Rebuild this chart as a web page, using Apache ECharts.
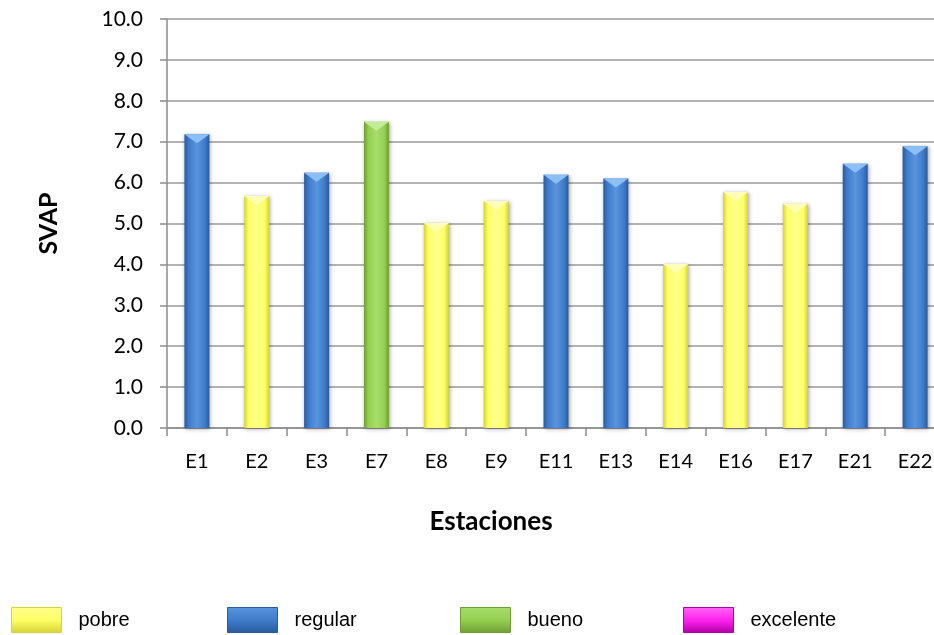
<!DOCTYPE html>
<html>
<head>
<meta charset="utf-8">
<script src="https://cdn.jsdelivr.net/npm/echarts@6/dist/echarts.min.js"></script>
<style>
  html, body { margin: 0; padding: 0; background: #fff; }
  #chart { width: 934px; height: 635px; }
</style>
</head>
<body>
<div id="chart"></div>
<script>
// Stations, SVAP index per station and its quality class
const categories = ['E1', 'E2', 'E3', 'E7', 'E8', 'E9', 'E11', 'E13', 'E14', 'E16', 'E17', 'E21', 'E22'];
const svapValues = [7.18, 5.67, 6.24, 7.49, 5.01, 5.55, 6.19, 6.10, 4.01, 5.77, 5.48, 6.46, 6.89];
const classes = ['regular', 'pobre', 'regular', 'bueno', 'pobre', 'pobre', 'regular', 'regular', 'pobre', 'pobre', 'pobre', 'regular', 'regular'];
const classNames = ['pobre', 'regular', 'bueno', 'excelente'];
const yTicks = { min: 0, max: 10, interval: 1 };

// Bar fill per class: light centre, darker edges for a rounded look
const palette = {
  pobre:     { edge: '#d4d436', mid: '#ffff66', light: '#ffff8c', cap: '#ffffb8' },
  regular:   { edge: '#2a5a9c', mid: '#3e7ccc', light: '#5a94dc', cap: '#8cc0f4' },
  bueno:     { edge: '#6f9e34', mid: '#94d050', light: '#a8dc6c', cap: '#c4ec96' },
  excelente: { edge: '#b000a8', mid: '#ff22ee', light: '#ff66f4', cap: '#ff9cf8' }
};
function barFill(name) {
  const p = palette[name];
  return new echarts.graphic.LinearGradient(0, 0, 1, 0, [
    { offset: 0, color: p.edge },
    { offset: 0.18, color: p.mid },
    { offset: 0.5, color: p.light },
    { offset: 0.82, color: p.mid },
    { offset: 1, color: p.edge }
  ]);
}
function keyFill(name) {
  const p = palette[name];
  return new echarts.graphic.LinearGradient(0, 0, 0, 1, [
    { offset: 0, color: p.light },
    { offset: 0.5, color: p.mid },
    { offset: 1, color: p.edge }
  ]);
}

const legendX = [11, 227, 460, 683];

const series = classNames.map(name => ({
  name: name,
  type: 'bar',
  stack: 'svap',
  barWidth: 25,
  data: svapValues.map((v, i) => classes[i] === name ? v : '-'),
  itemStyle: {
    color: barFill(name),
    shadowColor: 'rgba(0,0,0,0.35)',
    shadowBlur: 4,
    shadowOffsetX: 1,
    shadowOffsetY: 1
  }
}));

// Bevelled cap on top of each bar
series.push({
  name: 'cap',
  type: 'pictorialBar',
  symbol: 'path://M0,0 L10,0 L5,4 Z',
  symbolSize: [25, 9],
  symbolPosition: 'end',
  symbolOffset: [0, 0],
  silent: true,
  z: 3,
  data: svapValues.map((v, i) => ({ value: v, itemStyle: { color: palette[classes[i]].cap } }))
});

const chart = echarts.init(document.getElementById('chart'));
chart.setOption({
  animation: false,
  backgroundColor: '#ffffff',
  textStyle: { fontFamily: 'Lato' },
  grid: { left: 167, top: 19, width: 778, bottom: 207, outerBoundsMode: 'none', containLabel: false },
  legend: classNames.map((name, i) => ({
    data: [{ name: name, itemStyle: { color: keyFill(name), borderColor: palette[name].edge, borderWidth: 1 } }],
    left: legendX[i],
    top: 607,
    padding: 0,
    itemWidth: 50,
    itemHeight: 25,
    itemGap: 0,
    icon: 'rect',
    textStyle: { fontFamily: 'Liberation Sans Narrow, Liberation Sans', fontSize: 20, color: '#000', padding: [0, 0, 0, 12] }
  })),
  xAxis: {
    type: 'category',
    data: categories,
    name: 'Estaciones',
    nameLocation: 'middle',
    nameGap: 81,
    nameTextStyle: { fontSize: 26, fontWeight: 'bold', color: '#000', fontFamily: 'Lato', padding: [0, 130, 0, 0] },
    axisLine: { lineStyle: { color: '#8c8c8c', width: 1.5 } },
    axisTick: { show: true, alignWithLabel: false, length: 8, lineStyle: { color: '#8c8c8c', width: 1.5 } },
    axisLabel: { fontSize: 20, color: '#000', margin: 24, fontFamily: 'Lato' }
  },
  yAxis: {
    type: 'value',
    min: yTicks.min,
    max: yTicks.max,
    interval: yTicks.interval,
    name: 'SVAP',
    nameLocation: 'middle',
    nameGap: 106,
    nameTextStyle: { fontSize: 25, fontWeight: 'bold', color: '#000', fontFamily: 'Lato' },
    axisLine: { show: true, lineStyle: { color: '#8c8c8c', width: 1.5 } },
    axisTick: { show: true, length: 7, lineStyle: { color: '#8c8c8c', width: 1.5 } },
    splitLine: { show: true, lineStyle: { color: '#9a9a9a', width: 1.5 } },
    axisLabel: { fontSize: 21, color: '#000', margin: 24, fontFamily: 'Lato', formatter: v => v.toFixed(1) }
  },
  series: series
});
</script>
</body>
</html>
